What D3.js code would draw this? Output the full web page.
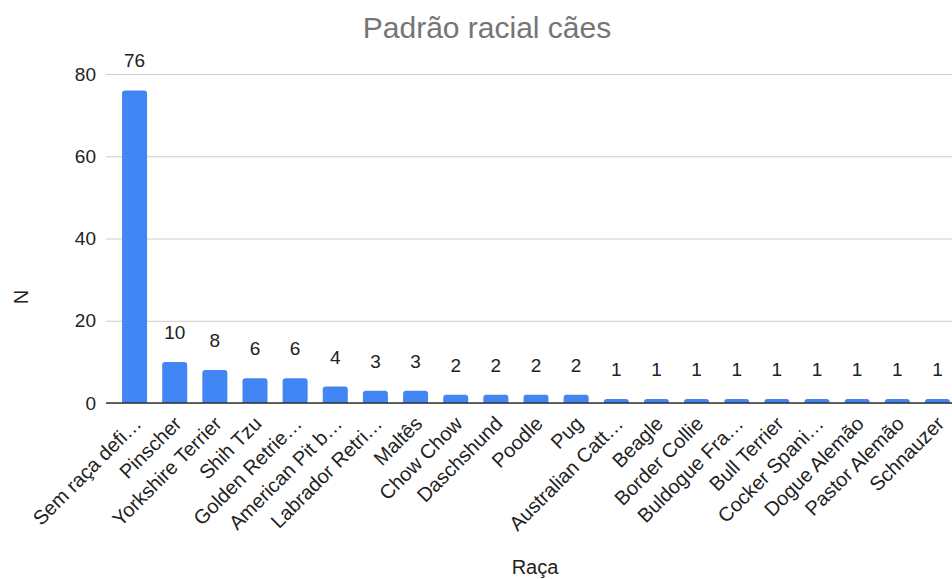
<!DOCTYPE html>
<html>
<head>
<meta charset="utf-8">
<script src="https://cdn.jsdelivr.net/npm/d3@7"></script>
<style>
  body { margin: 0; background: #fff; }
  svg { font-family: Arial, "Liberation Sans", sans-serif; }
</style>
</head>
<body>
<div id="chart"></div>
<script>
const breeds = ['Sem raça defi…', 'Pinscher', 'Yorkshire Terrier', 'Shih Tzu', 'Golden Retrie…',
  'American Pit b…', 'Labrador Retri…', 'Maltês', 'Chow Chow', 'Daschshund', 'Poodle', 'Pug',
  'Australian Catt…', 'Beagle', 'Border Collie', 'Buldogue Fra…', 'Bull Terrier', 'Cocker Spani…',
  'Dogue Alemão', 'Pastor Alemão', 'Schnauzer'];
const counts = [76, 10, 8, 6, 6, 4, 3, 3, 2, 2, 2, 2, 1, 1, 1, 1, 1, 1, 1, 1, 1];
const yTicks = [0, 20, 40, 60, 80];

const width = 952, height = 579;
const margin = { top: 74, left: 106, bottom: 176 };
const plotBottom = height - margin.bottom;

const svg = d3.select('#chart').append('svg')
  .attr('width', width)
  .attr('height', height);

const x = d3.scaleBand()
  .domain(breeds)
  .range([margin.left, 966])
  .paddingInner(0.377)
  .paddingOuter(0.4);

const y = d3.scaleLinear()
  .domain([0, 80])
  .range([plotBottom, margin.top]);

// title
svg.append('text')
  .attr('x', 487)
  .attr('y', 38)
  .attr('text-anchor', 'middle')
  .style('font-size', '30px')
  .style('fill', '#757575')
  .text('Padrão racial cães');

// gridlines + y labels
const yAxis = svg.append('g')
  .attr('transform', `translate(${margin.left},0)`)
  .call(d3.axisLeft(y).tickValues(yTicks).tickSize(-(width - margin.left)).tickPadding(10).tickFormat(d3.format('d')));
yAxis.select('.domain').remove();
yAxis.selectAll('.tick line').attr('stroke', '#cccccc');
yAxis.selectAll('.tick text').style('font-size', '19px').style('fill', '#222');

// bars
const bars = svg.append('g');
bars.selectAll('path')
  .data(breeds)
  .join('path')
  .attr('fill', '#4285f4')
  .attr('d', (d, i) => {
    const x0 = x(d), w = x.bandwidth(), top = y(counts[i]), r = Math.min(3, plotBottom - top);
    return `M${x0},${plotBottom}V${top + r}Q${x0},${top} ${x0 + r},${top}H${x0 + w - r}Q${x0 + w},${top} ${x0 + w},${top + r}V${plotBottom}Z`;
  });

// value labels
svg.append('g').selectAll('text')
  .data(breeds)
  .join('text')
  .attr('x', d => x(d) + x.bandwidth() / 2)
  .attr('y', (d, i) => y(counts[i]) - 23)
  .attr('text-anchor', 'middle')
  .style('font-size', '19px')
  .style('fill', '#222')
  .text((d, i) => counts[i]);

// baseline
svg.append('line')
  .attr('x1', margin.left).attr('x2', width)
  .attr('y1', plotBottom).attr('y2', plotBottom)
  .attr('stroke', '#333').attr('stroke-width', 1.3);

// x labels
const xAxis = svg.append('g')
  .attr('transform', `translate(0,${plotBottom})`)
  .call(d3.axisBottom(x).tickSize(0).tickPadding(0));
xAxis.select('.domain').remove();
xAxis.selectAll('.tick text')
  .attr('text-anchor', 'end')
  .attr('dy', '0')
  .attr('transform', 'translate(8,22) rotate(-45)')
  .style('font-size', '20px')
  .style('fill', '#222');

// axis titles
svg.append('text')
  .attr('x', 535)
  .attr('y', 574)
  .attr('text-anchor', 'middle')
  .style('font-size', '20px')
  .style('fill', '#222')
  .text('Raça');

svg.append('text')
  .attr('transform', 'translate(28,297) rotate(-90)')
  .attr('text-anchor', 'middle')
  .style('font-size', '20px')
  .style('fill', '#222')
  .text('N');
</script>
</body>
</html>
